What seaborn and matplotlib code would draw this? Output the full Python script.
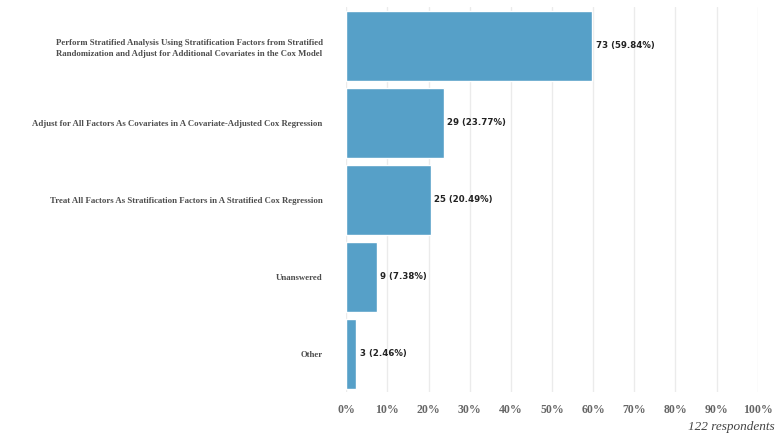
import numpy as np
import pandas as pd
import matplotlib
matplotlib.use('Agg')
import matplotlib.pyplot as plt
import seaborn as sns

# Survey answers
answers = [
    'Perform Stratified Analysis Using Stratification Factors from Stratified\nRandomization and Adjust for Additional Covariates in the Cox Model',
    'Adjust for All Factors As Covariates in A Covariate-Adjusted Cox Regression',
    'Treat All Factors As Stratification Factors in A Stratified Cox Regression',
    'Unanswered',
    'Other',
]
counts = [73, 29, 25, 9, 3]
percents = [59.84, 23.77, 20.49, 7.38, 2.46]
total = 122

df = pd.DataFrame({'answer': answers, 'count': counts, 'percent': percents})

sns.set_style('white')
plt.rcParams['font.family'] = ['DejaVu Sans']

fig = plt.figure(figsize=(7.78, 4.41), dpi=100)
ax = fig.add_axes([0.445, 0.110, 0.529, 0.873])

sns.barplot(data=df, x='percent', y='answer', orient='h', color='#56a0c8',
            width=0.9, saturation=1, ax=ax)

ax.set_xlim(0, 100)
ax.set_ylim(4.5, -0.5)
ax.set_xticks(np.arange(0, 101, 10))
ax.set_xticklabels([f'{v}%' for v in range(0, 101, 10)],
                   family='Liberation Serif', fontweight='bold', color='#666666', fontsize=8.5)
ax.set_yticks(range(len(answers)))
ax.set_yticklabels(answers, family='Liberation Serif', fontweight='bold',
                   color='#4d4d4d', fontsize=6.3, ha='right', multialignment='center',
                   linespacing=1.45)
ax.tick_params(axis='y', length=0, pad=17)
ax.tick_params(axis='x', length=0, pad=8)
ax.grid(axis='x', color='#ebebeb', linewidth=1)
ax.set_axisbelow(True)
for s in ax.spines.values():
    s.set_visible(False)
ax.set_xlabel('')
ax.set_ylabel('')

for i, (c, p) in enumerate(zip(counts, percents)):
    ax.text(p + 0.8, i, f'{c} ({p:.2f}%)', va='center', ha='left',
            fontsize=6.2, fontweight='bold', color='#222222')

fig.text(0.996, 0.032, f'{total} respondents', ha='right', va='center',
         family='Liberation Serif', style='italic', fontsize=9.5, color='#444444')

fig.savefig('out.png', dpi=100)
